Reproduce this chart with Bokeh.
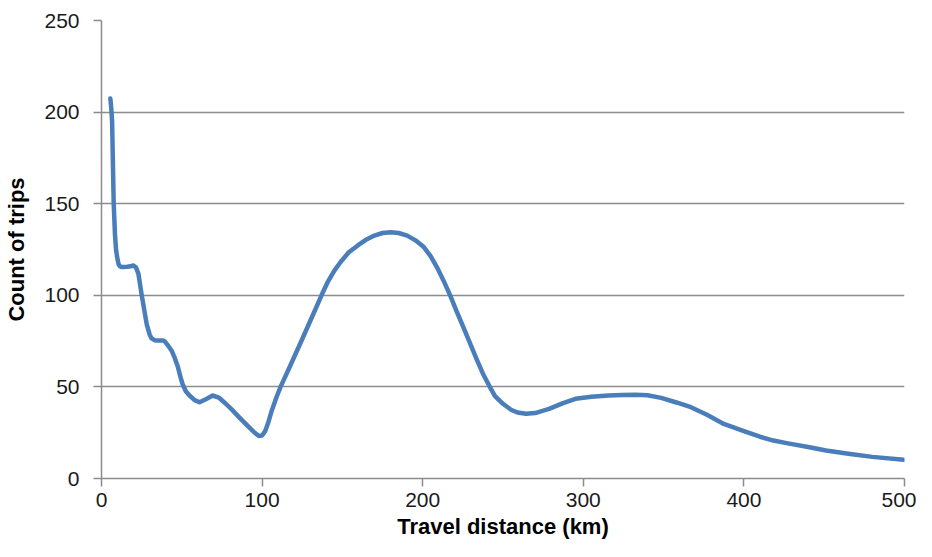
from bokeh.plotting import figure
from bokeh.models import Range1d, FixedTicker
from bokeh.embed import file_html
from bokeh.resources import INLINE

# Travel distance (km) and count of trips
distance_km = [5.5, 6.0, 6.6, 7.6, 8.4, 9.1, 10.0, 10.7, 11.6, 12.7, 16, 19.0, 19.9, 21.5,
               23, 25, 28.2, 30.0, 31.2, 33, 35, 38.5, 39.4, 41.5, 43.6, 45.6, 47.6, 49.3,
               50.7, 52.5, 54.8, 58, 61, 65, 69.2, 73, 77.4, 81.5, 85.6, 91.8, 95, 98, 100,
               102, 104, 106, 109, 111.5, 118, 124.6, 131, 137, 141, 145, 149, 154, 159.6,
               165, 169.9, 175, 180.1, 185, 190.4, 195.5, 200.7, 205, 208.9, 213, 217.1,
               221, 225.3, 229.5, 233.5, 237.5, 241.7, 245, 250, 255, 259, 264.3, 270,
               278.7, 287, 295.1, 305, 315.7, 324, 332.3, 340, 348.5, 358, 367, 377, 387.5,
               400, 410, 418.4, 426.6, 440, 451.2, 465, 480, 499.5]
trip_count = [207.4, 203, 195, 150, 133, 124.5, 119.5, 116.8, 115.8, 115.4, 115.6, 116.0,
              116.3, 115.2, 111.7, 100.3, 84, 78.5, 76.5, 75.5, 75.3, 75.3, 74.8, 72.5,
              69.9, 65.8, 60.8, 55, 51, 47.6, 45.3, 42.8, 41.6, 43.3, 45.3, 44.2, 40.8,
              37.3, 33.5, 28, 25.3, 23.2, 23.5, 26, 31, 37, 44.5, 50, 62.5, 75.3, 88, 100,
              107.5, 113.5, 118.3, 123.5, 127.2, 130.5, 132.6, 134, 134.4, 134, 132.6, 130,
              126.3, 121.3, 115.3, 108, 100, 91.5, 82.6, 73.8, 65.3, 57.2, 50.2, 45, 40.8,
              37.5, 36, 35.3, 35.7, 38, 41, 43.5, 44.6, 45.3, 45.6, 45.7, 45.4, 44, 41.5,
              38.9, 34.8, 29.8, 25.8, 22.8, 20.7, 19.3, 17.2, 15.3, 13.5, 11.8, 10.2]

x_ticks = [0, 100, 200, 300, 400, 500]
y_ticks = [0, 50, 100, 150, 200, 250]

p = figure(width=916, height=541, output_backend="svg", toolbar_location=None,
           x_range=Range1d(0, 500), y_range=Range1d(0, 250),
           min_border_left=101, min_border_right=12, min_border_top=20,
           min_border_bottom=63)
p.outline_line_color = None
p.background_fill_color = "white"
p.border_fill_color = "white"

p.line(distance_km, trip_count, line_color="#4A7EBB", line_width=4.5,
       line_join="round", line_cap="round")

for ax in (p.xaxis[0], p.yaxis[0]):
    ax.axis_line_color = "#8c8c8c"
    ax.axis_line_width = 1.5
    ax.major_tick_line_color = "#8c8c8c"
    ax.major_tick_line_width = 1.5
    ax.major_tick_out = 8
    ax.major_tick_in = 0
    ax.minor_tick_line_color = None
    ax.major_label_text_font = "Liberation Sans"
    ax.major_label_text_font_size = "21px"
    ax.major_label_text_color = "#1a1a1a"
    ax.axis_label_text_font = "Liberation Sans"
    ax.axis_label_text_font_size = "22px"
    ax.axis_label_text_font_style = "bold"
    ax.axis_label_text_color = "black"

p.xaxis.ticker = FixedTicker(ticks=x_ticks)
p.yaxis.ticker = FixedTicker(ticks=y_ticks)
p.xaxis.axis_label = "Travel distance (km)"
p.yaxis.axis_label = "Count of trips"
p.xaxis.major_label_standoff = 6
p.yaxis.major_label_standoff = 14
p.xaxis.axis_label_standoff = 4
p.yaxis.axis_label_standoff = 12

p.xgrid.grid_line_color = None
p.ygrid.grid_line_color = "#8c8c8c"
p.ygrid.grid_line_width = 1.5
p.ygrid.ticker = FixedTicker(ticks=y_ticks)

open("out.html", "w").write(file_html(p, INLINE))
